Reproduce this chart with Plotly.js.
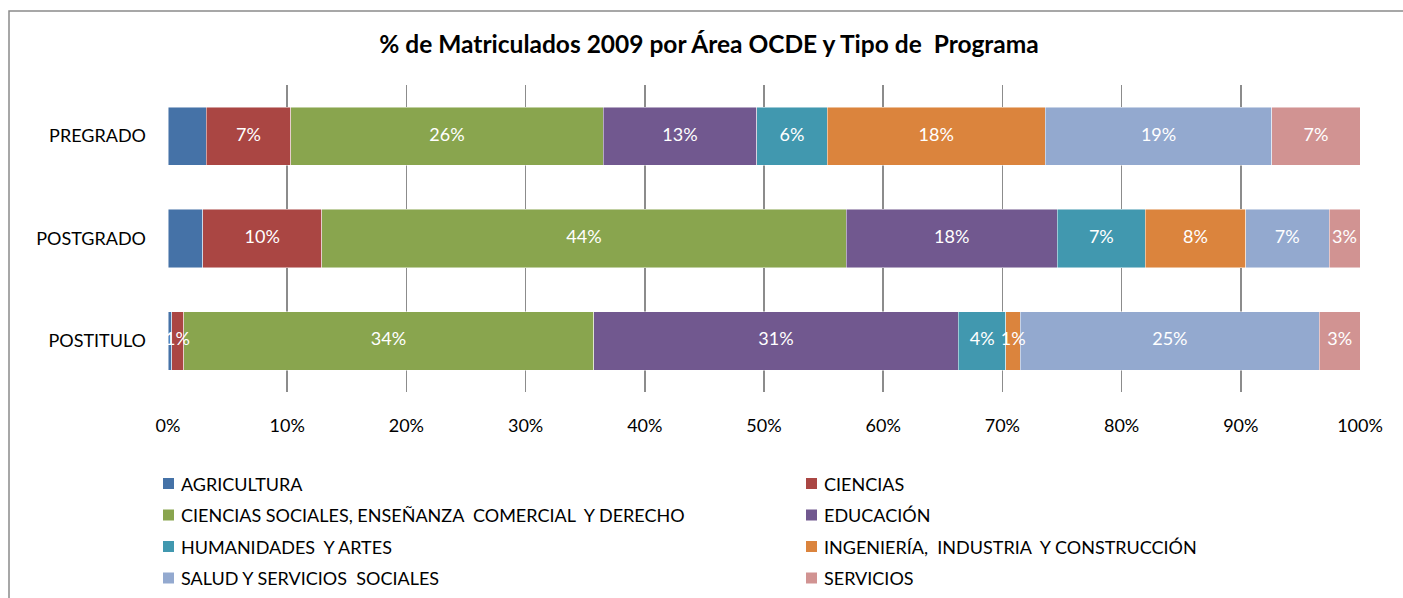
<!DOCTYPE html>
<html>
<head>
<meta charset="utf-8">
<script src="https://cdn.plot.ly/plotly-3.0.1.min.js"></script>
<style>
html,body{margin:0;padding:0;background:#fff;}
#chart{width:1403px;height:598px;}
</style>
</head>
<body>
<div id="chart"></div>
<script>
// ---- data ----
const programas = ["PREGRADO", "POSTGRADO", "POSTITULO"];
const areas = [
  "AGRICULTURA",
  "CIENCIAS",
  "CIENCIAS SOCIALES, ENSEÑANZA  COMERCIAL  Y DERECHO",
  "EDUCACIÓN",
  "HUMANIDADES  Y ARTES",
  "INGENIERÍA,  INDUSTRIA  Y CONSTRUCCIÓN",
  "SALUD Y SERVICIOS  SOCIALES",
  "SERVICIOS"
];
const agricultura = [3.2, 2.9, 0.3];
const ciencias = [7.1, 10.0, 1.0];
const cienciasSociales = [26.2, 44.0, 34.4];
const educacion = [12.9, 17.7, 30.6];
const humanidades = [5.9, 7.4, 4.0];
const ingenieria = [18.3, 8.4, 1.2];
const salud = [19.0, 7.0, 25.1];
const servicios = [7.4, 2.6, 3.4];
const seriesValues = [agricultura, ciencias, cienciasSociales, educacion, humanidades, ingenieria, salud, servicios];
const showLabels = [false, true, true, true, true, true, true, true];
const colors = ["#4572A7", "#AA4643", "#89A54E", "#71588F", "#4198AF", "#DB843D", "#93A9CF", "#D19392"];
const xTickVals = [0, 10, 20, 30, 40, 50, 60, 70, 80, 90, 100];
const xTickText = ["0%", "10%", "20%", "30%", "40%", "50%", "60%", "70%", "80%", "90%", "100%"];
const titleText = "% de Matriculados 2009 por Área OCDE y Tipo de  Programa";

// ---- layout geometry ----
const W = 1403, H = 598;
const M = {l: 168, r: 43, t: 85, b: 206};
const PW = W - M.l - M.r, PH = H - M.t - M.b;
const FONT = "Lato, 'Open Sans', sans-serif";
const FS = 18;
const px2x = p => (p - M.l) / PW;
const py2y = p => (H - M.b - p) / PH;

const traces = seriesValues.map((vals, i) => ({
  type: "bar",
  orientation: "h",
  name: areas[i],
  y: programas,
  x: vals,
  marker: {color: colors[i], line: {color: "rgba(255,255,255,0.6)", width: 0.8}},
  showlegend: false,
  hoverinfo: "name+x"
}));

// data labels drawn on top of all bars (so small segments' labels can overflow)
const totals = programas.map((_, j) => seriesValues.reduce((s, vals) => s + vals[j], 0));
const labX = [], labY = [], labT = [];
programas.forEach((p, j) => {
  let cum = 0;
  seriesValues.forEach((vals, i) => {
    const pct = vals[j] / totals[j] * 100;
    if (showLabels[i]) {
      labX.push(cum + pct / 2);
      labY.push(p);
      labT.push(Math.round(vals[j]) + "%");
    }
    cum += pct;
  });
});
traces.push({
  type: "scatter", mode: "text", x: labX, y: labY, text: labT,
  textposition: "middle center",
  textfont: {color: "#ffffff", size: FS, family: FONT},
  cliponaxis: false, showlegend: false, hoverinfo: "skip"
});

// manual legend (two columns, four rows)
const shapes = [];
const annotations = [];
const colX = [163, 806];
const rowY = [483.5, 515, 546.5, 578];
areas.forEach((name, i) => {
  const c = i % 2, r = Math.floor(i / 2);
  const mx = colX[c], my = rowY[r];
  shapes.push({
    type: "rect", xref: "paper", yref: "paper",
    x0: px2x(mx), x1: px2x(mx + 11), y0: py2y(my - 5.5), y1: py2y(my + 5.5),
    fillcolor: colors[i], line: {width: 0}
  });
  annotations.push({
    xref: "paper", yref: "paper", x: px2x(mx + 16), y: py2y(my),
    xanchor: "left", yanchor: "middle", showarrow: false,
    text: name, font: {family: FONT, size: FS, color: "#000"}
  });
});
// chart frame
shapes.push({
  type: "path", xref: "paper", yref: "paper", layer: "below",
  path: `M ${px2x(9)} ${py2y(H + 5)} L ${px2x(9)} ${py2y(11)} L ${px2x(W + 5)} ${py2y(11)}`,
  line: {color: "#8a8a8a", width: 1.5}
});

const layout = {
  width: W, height: H,
  margin: M,
  paper_bgcolor: "#ffffff",
  plot_bgcolor: "#ffffff",
  barmode: "stack",
  barnorm: "percent",
  bargap: 0.43,
  font: {family: FONT, size: FS, color: "#000"},
  title: {
    text: "<b>" + titleText + "</b>",
    font: {family: FONT, size: 24.5, color: "#000"},
    xref: "container", x: 709 / W, xanchor: "center",
    yref: "container", y: 1 - 44 / H, yanchor: "middle"
  },
  xaxis: {
    range: [0, 100], tickvals: xTickVals, ticktext: xTickText,
    showgrid: true, gridcolor: "#8c8c8c", gridwidth: 1.5,
    zeroline: false, showline: false, ticks: "",
    ticklabelstandoff: 21,
    tickfont: {family: FONT, size: FS, color: "#000"}
  },
  yaxis: {
    autorange: "reversed", showgrid: false, zeroline: false, showline: false,
    ticks: "", ticklabelstandoff: 21,
    tickfont: {family: FONT, size: FS, color: "#000"}
  },
  shapes: shapes,
  annotations: annotations
};

Plotly.newPlot("chart", traces, layout, {displayModeBar: false, staticPlot: true});
</script>
</body>
</html>
